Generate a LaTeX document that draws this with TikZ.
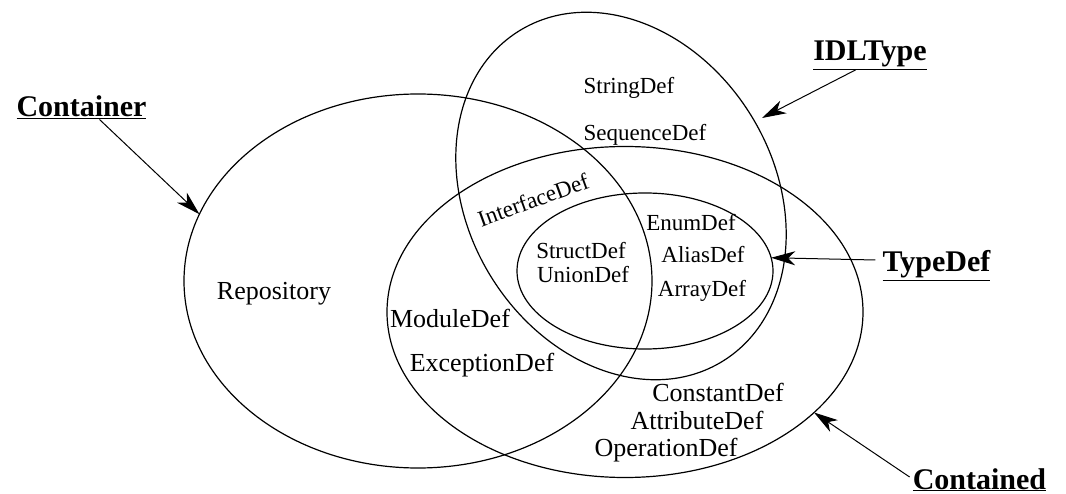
\documentclass[tikz,border=0pt]{standalone}
\usepackage{fontspec}
\setmainfont{Liberation Serif}
\usetikzlibrary{shapes.geometric,arrows.meta}
\begin{document}
\begin{tikzpicture}[x=1pt,y=-1pt,
  venn/.style={draw, ellipse, inner sep=0pt, outer sep=0pt, line width=1.2pt},
  lbl/.style={font=\fontsize{30}{34}\selectfont\bfseries, inner sep=0pt},
  big/.style={font=\fontsize{26}{30}\selectfont, inner sep=0pt, text height=0.7em, text depth=0.2em},
  small/.style={font=\fontsize{23}{27}\selectfont, inner sep=0pt, text height=0.7em, text depth=0.2em},
  arr/.style={line width=1pt, -{Stealth[length=24pt,width=14pt,inset=7pt]}}]
\useasboundingbox (0,0) rectangle (1066,494);
% sets
\node[venn, minimum width=468pt, minimum height=374pt] (container) at (418,281) {};
\node[venn, minimum width=476pt, minimum height=331pt] (contained) at (625,312) {};
\node[venn, minimum width=256pt, minimum height=156pt] (typedef) at (645,271) {};
\node[venn, minimum width=306pt, minimum height=388pt, rotate=31.5] (idltype) at (621,196) {};
% labels
\node[lbl, anchor=base] (clbl) at (81.5,117) {\underline{Container}};
\node[lbl, anchor=base] (ilbl) at (870,61) {\underline{IDLType}};
\node[lbl, anchor=base] (tlbl) at (936.5,272) {\underline{TypeDef}};
\node[lbl, anchor=base] (conlbl) at (979.5,489) {\underline{Contained}};
% arrows
\coordinate (itip) at (762,118);
\draw[arr] ([xshift=18pt]clbl.south) -- (container.163);
\draw[arr] ([xshift=-14pt]ilbl.south) -- (itip);
\draw[arr] ([xshift=-7pt,yshift=12pt]tlbl.base west) -- (typedef.6);
\draw[arr] ([xshift=-3pt,yshift=12pt]conlbl.base west) -- (contained.-28.7);
% members
\node[small] (stringdef) at (629,91) {StringDef};
\node[small] (seqdef) at (645,138) {SequenceDef};
\node[small, rotate=20] (ifdef) at (535,205) {InterfaceDef};
\node[small] (enumdef) at (691,228) {EnumDef};
\node[small] (aliasdef) at (703,260) {AliasDef};
\node[small] (arraydef) at (702,294) {ArrayDef};
\node[small] (structdef) at (581,256) {StructDef};
\node[small] (uniondef) at (583,280) {UnionDef};
\node[big] (repo) at (274,297) {Repository};
\node[big] (moduledef) at (450,325) {ModuleDef};
\node[big] (excdef) at (482,369) {ExceptionDef};
\node[big] (constdef) at (718,399) {ConstantDef};
\node[big] (attrdef) at (697,427) {AttributeDef};
\node[big] (opdef) at (666,454) {OperationDef};
\end{tikzpicture}
\end{document}
